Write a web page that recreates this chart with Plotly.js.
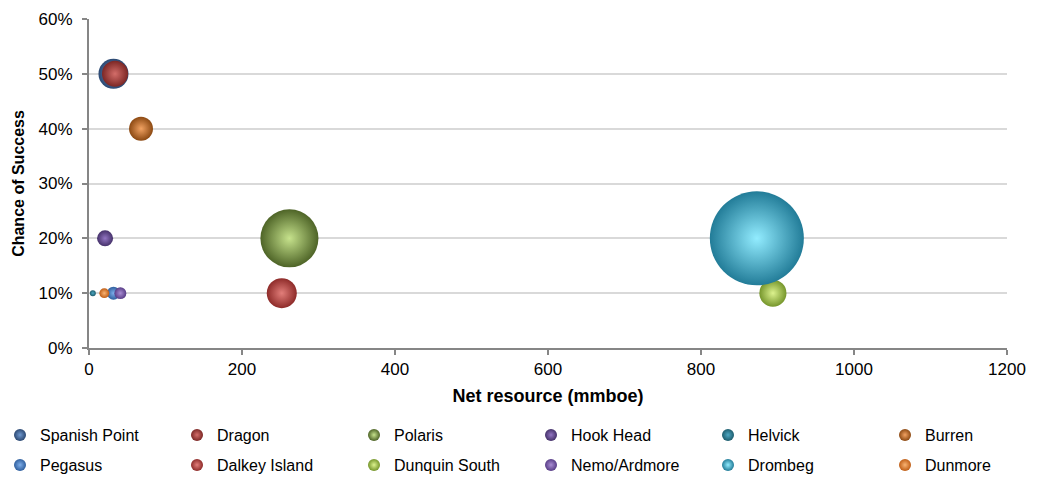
<!DOCTYPE html>
<html>
<head>
<meta charset="utf-8">
<script src="https://cdn.plot.ly/plotly-3.0.1.min.js"></script>
<style>
  html, body { margin: 0; padding: 0; background: #ffffff; }
  #chart { width: 1044px; height: 483px; }
</style>
</head>
<body>
<div id="chart"></div>
<script>
// Prospect portfolio: net resource vs. chance of success, bubble area = prospect size
const prospects   = ['Spanish Point', 'Dragon', 'Polaris', 'Hook Head', 'Helvick', 'Burren',
                     'Pegasus', 'Dalkey Island', 'Dunquin South', 'Nemo/Ardmore', 'Drombeg', 'Dunmore'];
const netResource = [32, 34, 262, 21, 5, 68, 32, 252, 894, 41, 873, 20];          // mmboe
const chanceOfSuccess = [0.50, 0.50, 0.20, 0.20, 0.10, 0.40, 0.10, 0.10, 0.10, 0.10, 0.20, 0.10];
const bubbleSize  = [102, 77, 381, 29, 4, 65, 19, 102, 83, 16, 1000, 11];

// sphere shading: edge colour and highlight colour for each prospect
const edgeColors = ['#2b4872', '#7c2725', '#4e6427', '#45316a', '#1d5d6e', '#8c4912',
                    '#2f5f9e', '#8e2b29', '#76962c', '#583d87', '#227c98', '#bf5e16'];
const glowColors = ['#6f98cf', '#d36d69', '#c6e28c', '#9275c2', '#4ea8c3', '#f2a262',
                    '#7eaeea', '#e27e7a', '#dcf28e', '#a98dd3', '#92ecff', '#f9b373'];

// first legend row; the rest go to the second row
const rowOne = ['Spanish Point', 'Dragon', 'Polaris', 'Hook Head', 'Helvick', 'Burren'];
// last column is kept narrow so each row stays on one line
const lastColumn = ['Burren', 'Dunmore'];

const maxDiameter = 94;
const sizeRef = 2 * Math.max(...bubbleSize) / (maxDiameter * maxDiameter);

const traces = prospects.map((name, i) => {
  const t = {
    type: 'scatter',
    mode: 'markers',
    name: name,
    x: [netResource[i]],
    y: [chanceOfSuccess[i]],
    legend: rowOne.includes(name) ? 'legend' : 'legend2',
    marker: {
      size: [bubbleSize[i]],
      sizemode: 'area',
      sizeref: sizeRef,
      opacity: 1,
      color: edgeColors[i],
      gradient: { type: 'radial', color: glowColors[i] },
      line: { width: 0 }
    },
    hoverinfo: 'name+x+y'
  };
  if (lastColumn.includes(name)) t.legendwidth = 72;
  return t;
});

const fontFamily = 'Liberation Sans, Arial, sans-serif';

// plot area in pixels, used to place the legend rows under it
const margin = { l: 89, r: 37, t: 19, b: 135 };
const plotW = 1044 - margin.l - margin.r;
const plotH = 483 - margin.t - margin.b;
const rowY = px => (483 - margin.b - px) / plotH;

const legendBase = {
  orientation: 'h',
  xref: 'paper',
  yref: 'paper',
  xanchor: 'left',
  yanchor: 'middle',
  x: -margin.l / plotW,
  entrywidth: 132,
  entrywidthmode: 'pixels',
  itemsizing: 'constant',
  bgcolor: 'rgba(0,0,0,0)',
  font: { family: fontFamily, size: 16, color: '#000000' }
};

const layout = {
  width: 1044,
  height: 483,
  margin: Object.assign({ autoexpand: false }, margin),
  paper_bgcolor: '#ffffff',
  plot_bgcolor: '#ffffff',
  font: { family: fontFamily, size: 17, color: '#000000' },
  showlegend: true,
  legend: Object.assign({}, legendBase, { y: rowY(435) }),
  legend2: Object.assign({}, legendBase, { y: rowY(465) }),
  xaxis: {
    range: [0, 1200],
    tick0: 0,
    dtick: 200,
    showgrid: false,
    zeroline: false,
    showline: true,
    linecolor: '#868686',
    linewidth: 2,
    ticks: 'outside',
    ticklen: 5,
    tickwidth: 2,
    tickcolor: '#868686',
    tickfont: { family: fontFamily, size: 17, color: '#000000' },
    title: {
      text: '<b>Net resource (mmboe)</b>',
      font: { family: fontFamily, size: 18, color: '#000000' },
      standoff: 11
    }
  },
  yaxis: {
    range: [0, 0.6],
    tick0: 0,
    dtick: 0.1,
    tickformat: '.0%',
    showgrid: true,
    gridcolor: '#d9d9d9',
    gridwidth: 2,
    zeroline: false,
    showline: true,
    linecolor: '#868686',
    linewidth: 2,
    ticks: 'outside',
    ticklen: 5,
    tickwidth: 2,
    tickcolor: '#868686',
    ticklabelstandoff: 6,
    tickfont: { family: fontFamily, size: 17, color: '#000000' },
    title: {
      text: '<b>Chance of Success</b>',
      font: { family: fontFamily, size: 16, color: '#000000' },
      standoff: 10
    }
  }
};

Plotly.newPlot('chart', traces, layout, { displayModeBar: false, responsive: false });
</script>
</body>
</html>
